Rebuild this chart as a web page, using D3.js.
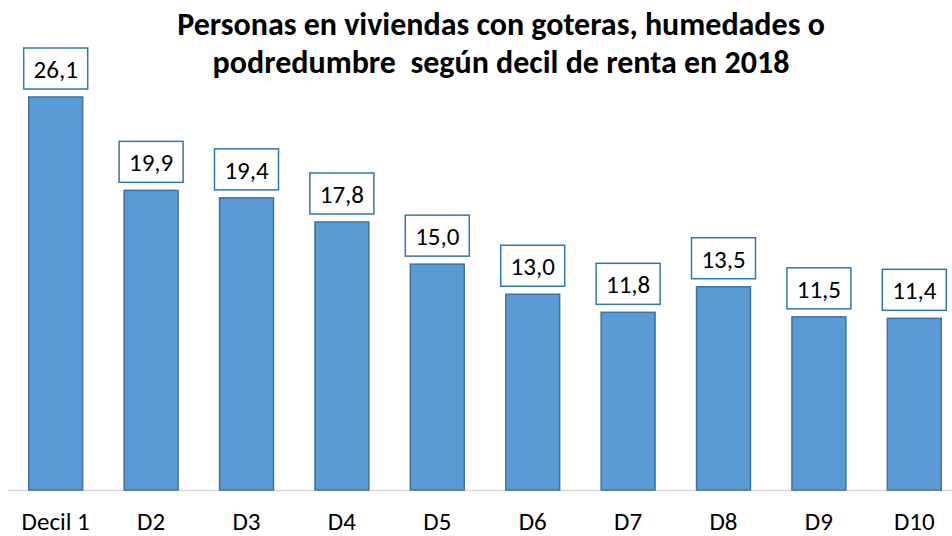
<!DOCTYPE html>
<html>
<head>
<meta charset="utf-8">
<script src="https://cdn.jsdelivr.net/npm/d3@7"></script>
<style>
  body { margin: 0; background: #fff; }
  svg text { font-family: Calibri, Carlito, "Open Sans", sans-serif; white-space: pre; }
</style>
</head>
<body>
<div id="chart"></div>
<script>
const categories = ["Decil 1", "D2", "D3", "D4", "D5", "D6", "D7", "D8", "D9", "D10"];
const values = [26.1, 19.9, 19.4, 17.8, 15.0, 13.0, 11.8, 13.5, 11.5, 11.4];
const titleLines = ["Personas en viviendas con goteras, humedades o", "podredumbre  según decil de renta en 2018"];

const width = 952;
const height = 536;

const svg = d3.select("#chart")
    .append("svg")
    .attr("width", width)
    .attr("height", height);

const x = d3.scaleBand()
    .domain(categories)
    .range([8, 962])
    .paddingInner(0.435)
    .paddingOuter(0.2175);

const y = d3.scaleLinear()
    .domain([0, 26.1])
    .range([490, 97]);

// title
svg.selectAll("text.title")
    .data(titleLines)
    .enter().append("text")
    .attr("class", "title")
    .attr("x", 501)
    .attr("y", (d, i) => 35 + i * 38)
    .attr("text-anchor", "middle")
    .style("font-size", "32px")
    .style("font-weight", "bold")
    .attr("fill", "#000")
    .text(d => d);

// baseline
svg.append("line")
    .attr("x1", 8)
    .attr("x2", width)
    .attr("y1", y(0) + 0.5)
    .attr("y2", y(0) + 0.5)
    .attr("stroke", "#d9d9d9")
    .attr("stroke-width", 1.5);

// bars
svg.selectAll("rect.bar")
    .data(values)
    .enter().append("rect")
    .attr("class", "bar")
    .attr("x", (d, i) => x(categories[i]))
    .attr("y", d => y(d))
    .attr("width", x.bandwidth())
    .attr("height", d => y(0) - y(d))
    .attr("fill", "#5b9bd5")
    .attr("stroke", "#41719c")
    .attr("stroke-width", 1.5);

// value labels in boxes
const fmt = d => d.toFixed(1).replace(".", ",");
const labels = svg.selectAll("g.label")
    .data(values)
    .enter().append("g")
    .attr("class", "label")
    .attr("transform", (d, i) => `translate(${x(categories[i]) + x.bandwidth() / 2}, ${y(d) - 8})`);

labels.append("rect")
    .attr("x", -32)
    .attr("y", -41)
    .attr("width", 64)
    .attr("height", 41)
    .attr("fill", "#fff")
    .attr("stroke", "#2e75b6")
    .attr("stroke-width", 1.5);

labels.append("text")
    .attr("x", 0)
    .attr("y", -11)
    .attr("text-anchor", "middle")
    .style("font-size", "25px")
    .attr("fill", "#000")
    .text(d => fmt(d));

// category labels
svg.selectAll("text.cat")
    .data(categories)
    .enter().append("text")
    .attr("class", "cat")
    .attr("x", d => x(d) + x.bandwidth() / 2)
    .attr("y", 530)
    .attr("text-anchor", "middle")
    .style("font-size", "25px")
    .attr("fill", "#000")
    .text(d => d);
</script>
</body>
</html>
